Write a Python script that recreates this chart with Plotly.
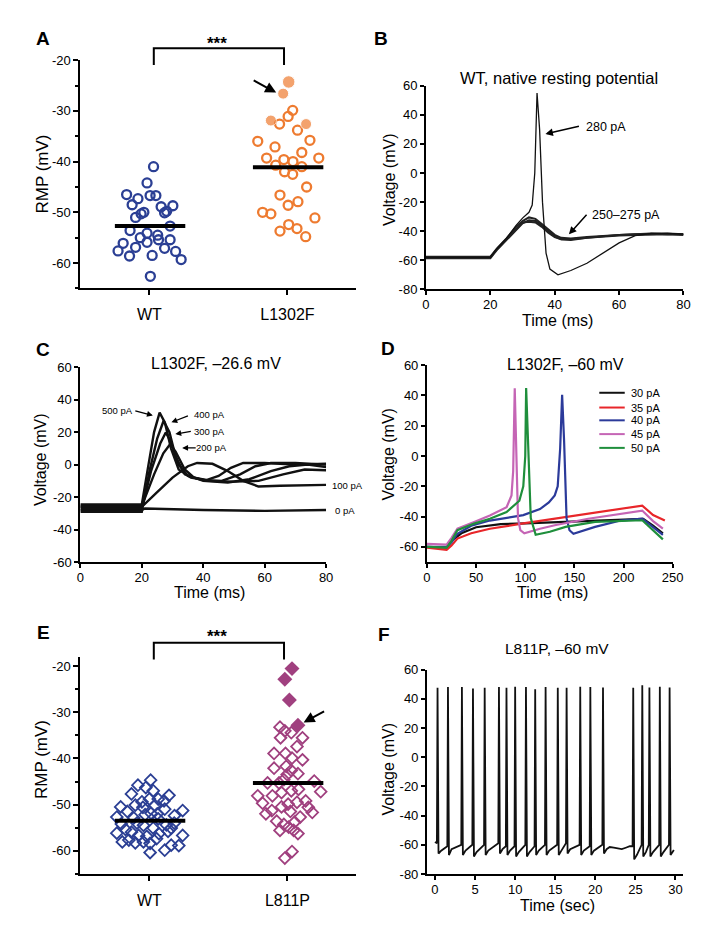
import plotly.graph_objects as go

W, H = 717, 944
FONT = "Liberation Sans, Arial, Helvetica, sans-serif"

# ================= DATA =================
# ---- Panel A : RMP, WT vs L1302F ----
a_categories = ["WT", "L1302F"]
a_wt_dx = [0.03, -0.017, -0.165, 0.005, 0.047, -0.083, -0.125, 0.085, 0.17, 0.125, 0.11, -0.04,
           -0.06, -0.1, 0.15, -0.14, -0.017, 0.06, -0.066, 0.066, 0.15, -0.017, -0.19, -0.1, 0.11,
           -0.227, 0.19, -0.144, 0.02, 0.23, 0.007]
a_wt_v = [-41.0, -44.2, -46.5, -46.7, -46.7, -47.3, -48.5, -48.9, -48.7, -49.8, -50.1, -50.0,
          -50.3, -51.0, -52.7, -53.6, -54.1, -54.5, -55.0, -55.4, -55.4, -55.9, -56.1, -56.9, -57.1,
          -57.6, -57.7, -58.6, -58.5, -59.3, -62.6]
a_mut_dx = [0.038, 0.005, -0.057, 0.073, -0.215, 0.163, -0.09, 0.104, -0.151, -0.026, 0.04, 0.227,
            -0.085, 0.104, -0.021, 0.038, 0.139, -0.054, 0.076, 0.005, -0.18, -0.12, 0.199, 0.009,
            -0.054, 0.069, 0.132]
a_mut_v = [-29.9, -31.1, -32.6, -33.8, -36.0, -35.8, -37.1, -38.2, -39.3, -39.6, -40.0, -39.3,
           -40.7, -41.0, -42.0, -42.5, -45.0, -46.6, -47.9, -48.6, -50.0, -50.3, -51.1, -52.4,
           -53.7, -53.2, -54.8]
a_mut_fill_dx = [0.009, -0.031, -0.12, 0.135]
a_mut_fill_v = [-24.3, -26.6, -31.9, -32.6]
a_means = [-52.7, -41.1]
a_yticks = [-20, -30, -40, -50, -60]

# ---- Panel B : WT, native resting potential ----
b_sub1_t = [0, 20, 22, 25, 28, 30, 32, 34, 36, 38, 40, 42, 45, 50, 55, 60, 65, 70, 75, 80]
b_sub1_v = [-57.5, -57.5, -52, -45, -37, -33, -30.5, -31.5, -35, -39, -42.5, -44.5, -45, -44, -43,
            -42.5, -42, -41.5, -41.5, -42]
b_sub2_t = [0, 20, 22, 25, 28, 30, 32, 34, 36, 38, 40, 42, 45, 50, 55, 60, 65, 70, 75, 80]
b_sub2_v = [-58.5, -58.5, -53, -46, -38.5, -34.5, -32.5, -33, -36, -40, -43.5, -45.5, -46, -44.5,
            -43.5, -43, -42.5, -42, -42, -42.5]
b_sub3_t = [0, 20, 22, 25, 28, 30, 32, 34, 36, 38, 40, 42, 45, 50, 55, 60, 65, 70, 75, 80]
b_sub3_v = [-58, -58, -52.5, -45.5, -38, -34, -33.5, -34, -37, -41, -44, -45.5, -45.5, -44.5, -43,
            -42.5, -42, -41.5, -42, -42]
b_spk_t = [0, 20, 22, 25, 28, 30, 32, 33, 33.8, 34.5, 35.3, 36.2, 37.3, 38.5, 41, 45, 50, 55, 60,
           65, 70, 75, 80]
b_spk_v = [-58, -58, -52, -45, -36, -31, -27, -22, 0, 55, 30, -20, -55, -66, -70, -67, -62, -55, -48,
           -43, -41.5, -41.5, -42]
b_xticks = [0, 20, 40, 60, 80]
b_yticks = [60, 40, 20, 0, -20, -40, -60, -80]

# ---- Panel C : L1302F, -26.6 mV ----
c_labels = ["0 pA", "100 pA", "200 pA", "300 pA", "400 pA", "500 pA"]
c_0_t = [0, 20, 21, 40, 60, 80]
c_0_v = [-28, -28, -27, -28, -28.5, -28]
c_100_t = [0, 20, 25, 30, 35, 38, 43, 48, 53, 58, 65, 80]
c_100_v = [-26, -26, -17, -8, -1, 1, 0.5, -4, -10, -13.5, -13, -12.5]
c_200_t = [0, 20, 24, 27, 29.2, 31, 34, 37, 41, 45, 49, 53, 60, 70, 80]
c_200_v = [-25.5, -25.5, -6, 7, 12.5, 8, -3, -8, -9.5, -7, -2, 1, 1, 0, 0.5]
c_300_t = [0, 20, 23, 26, 27.8, 29.5, 32, 35, 40, 46, 52, 57, 62, 70, 80]
c_300_v = [-27, -27, -4, 13, 19.8, 14, 0, -7, -9.5, -10, -6, -1, 1, 1, 0]
c_400_t = [0, 20, 22.5, 25, 27.1, 29, 31, 34, 40, 48, 55, 62, 68, 74, 80]
c_400_v = [-29, -29, -4, 16, 27, 20, 5, -6, -10, -11, -9, -4, -1, 0, -1.5]
c_500_t = [0, 20, 22, 24, 25.8, 27.5, 29.5, 32, 36, 42, 50, 58, 66, 73, 80]
c_500_v = [-24.5, -24.5, -2, 20, 32, 26, 10, -3, -8, -10, -10.5, -10, -6, -3, -3.5]
c_xticks = [0, 20, 40, 60, 80]
c_yticks = [60, 40, 20, 0, -20, -40, -60]

# ---- Panel D : L1302F, -60 mV ----
d_labels = ["30 pA", "35 pA", "40 pA", "45 pA", "50 pA"]
d_30_t = [0, 20, 25, 35, 50, 75, 100, 140, 180, 220, 230, 240]
d_30_v = [-60, -60.5, -56, -51, -47, -45, -44.5, -43.5, -42.5, -41.5, -46, -51]
d_35_t = [0, 15, 20, 25, 31, 45, 64, 98, 147, 197, 219, 230, 242]
d_35_v = [-60.5, -61.5, -62, -59, -54.5, -51, -48, -44.5, -39.6, -34.4, -32.7, -39, -42.5]
d_40_t = [0, 20, 25, 31, 45, 64, 98, 115, 124, 130, 133, 135.5, 137.5, 139.5, 142, 145, 149, 160,
          171, 197, 219, 230, 240]
d_40_v = [-60, -60, -57, -51.3, -46, -42.6, -39, -35, -30.6, -26, -20, 5, 40.5, 10, -41, -49, -51.3,
          -49, -46.8, -42.6, -41.4, -47, -52]
d_45_t = [0, 20, 25, 31, 48, 64, 81, 86, 87.7, 89.3, 91, 92.6, 95, 99, 115, 130, 164, 197, 219,
          230, 240]
d_45_v = [-58, -58.5, -54, -48, -43.5, -39.3, -33.8, -26, -10, 44.8, 0, -41, -49, -51, -48, -45.7,
          -41.4, -38.2, -36, -43, -48]
d_50_t = [0, 20, 25, 31, 48, 64, 81, 94, 98, 100, 100.9, 102.5, 105.6, 110.6, 125, 141, 171, 219,
          230, 240]
d_50_v = [-60, -60.5, -56, -49, -44.6, -41.4, -37, -29.5, -20, 0, 45, 10, -41, -52, -50, -46.8,
          -43.5, -42.4, -49, -55]
d_xticks = [0, 50, 100, 150, 200, 250]
d_yticks = [60, 40, 20, 0, -20, -40, -60]

# ---- Panel E : RMP, WT vs L811P ----
e_categories = ["WT", "L811P"]
e_wt_dx = [0.009, -0.083, -0.026, 0.028, -0.13, 0.142, 0.0, 0.064, -0.054, 0.106, -0.102, -0.208,
           -0.047, 0.111, 0.241, 0.012, -0.031, 0.057, 0.182, -0.236, -0.113, 0.064, -0.203, -0.09,
           -0.043, 0.028, 0.123, 0.158, -0.173, -0.236, -0.13, -0.078, -0.019, 0.069, 0.135, 0.241,
           -0.149, -0.196, -0.102, -0.043, 0.005, 0.052, 0.158, 0.213, 0.111, 0.005, -0.16, 0.04,
           0.18]
e_wt_v = [-44.7, -45.8, -46.3, -47.0, -47.7, -48.0, -48.8, -48.8, -49.4, -49.2, -50.1, -50.5,
          -50.6, -51.0, -51.3, -51.9, -52.2, -52.0, -52.4, -52.7, -52.9, -53.1, -54.2, -54.0,
          -54.5, -55.1, -54.4, -55.1, -55.4, -56.2, -56.0, -56.7, -56.9, -56.3, -55.8, -56.7,
          -57.7, -58.1, -58.3, -58.1, -58.4, -57.4, -58.8, -58.9, -59.9, -60.4, -51.5, -50.2,
          -54.0]
e_mut_dx = [-0.054, -0.019, 0.028, -0.05, 0.109, 0.069, -0.097, -0.014, 0.033, 0.109, -0.097,
            -0.009, 0.028, -0.002, 0.076, -0.026, -0.061, -0.144, 0.194, 0.241, -0.215, -0.109,
            -0.043, 0.028, 0.08, -0.18, -0.043, 0.005, 0.069, 0.132, 0.151, 0.18, -0.113, -0.156,
            0.021, 0.092, 0.052, -0.078, -0.026, -0.054, 0.009, 0.045, 0.076, 0.033, -0.019]
e_mut_v = [-33.2, -34.0, -34.4, -35.5, -35.5, -37.4, -38.9, -38.9, -39.9, -40.3, -42.1, -41.7,
           -42.6, -43.5, -43.3, -44.6, -45.3, -45.3, -44.9, -47.2, -48.1, -48.1, -47.4, -47.0,
           -46.7, -49.7, -50.5, -49.9, -49.5, -49.2, -50.6, -51.7, -51.3, -52.0, -51.5, -52.7,
           -53.8, -53.6, -54.3, -55.6, -54.9, -55.6, -56.3, -60.2, -61.6]
e_mut_fill_dx = [0.033, -0.019, 0.014, 0.076]
e_mut_fill_v = [-20.5, -22.8, -27.3, -32.8]
e_means = [-53.5, -45.3]
e_yticks = [-20, -30, -40, -50, -60]

# ---- Panel F : L811P, -60 mV, spontaneous firing ----
f_start = (0.0, -58.0)
f_spike_t = [0.32, 1.62, 3.36, 4.74, 6.2, 7.98, 8.92, 10.0, 11.35, 12.5, 13.8, 15.32, 16.42, 18.12,
             19.38, 20.96, 24.73, 25.86, 26.75, 28.05, 29.27]
f_peak_v = [47.5, 48, 48, 47, 47.5, 48, 47.5, 48.3, 48, 46.5, 48, 47.5, 47.5, 48.3, 48, 47.8, 47.5,
            49.2, 47.8, 48.3, 47.8]
f_pre_v = [-59, -61, -60, -60, -60, -59, -61, -61, -60, -61, -60, -60, -59, -60, -61, -60, -61, -60,
           -60, -60, -60]
f_trough_v = [-66, -67, -67, -68, -67, -66, -67, -68, -68, -67, -67, -67, -66, -67, -67, -66, -70,
              -68, -68, -68, -67]
f_recov_v = [-64, -63, -64, -65, -64, -63, -64, -65, -65, -64, -64, -64, -63, -64, -64, -63, -67,
             -65, -65, -65, -64]
f_gap_t = [21.4, 21.8, 22.3, 22.8, 23.3, 23.8, 24.3]
f_gap_v = [-63, -61.5, -62, -62.5, -63, -62, -61]
f_end = (29.8, -63.5)
f_xticks = [0, 5, 10, 15, 20, 25, 30]
f_yticks = [60, 40, 20, 0, -20, -40, -60, -80]

# ================= STYLE =================
BLUE = "#2b3f94"
ORANGE = "#ee7b30"
MAG = "#a0407f"
D_COLORS = ["#111111", "#e8262a", "#2b3a9a", "#c565b5", "#1f8f3c"]


def pxx(x):
    return x / W


def pxy(y):
    return 1 - y / H


def axis(dom, ticks_list=None, **kw):
    d = dict(domain=dom, showline=True, linecolor="black", linewidth=2, ticks="outside",
             tickcolor="black", tickwidth=2, ticklen=4, showgrid=False, zeroline=False,
             tickfont=dict(family=FONT, size=13, color="black"), fixedrange=True)
    if ticks_list is not None:
        d["tickvals"] = ticks_list
        d["ticktext"] = [str(v) for v in ticks_list]
    d.update(kw)
    return d


fig = go.Figure()

# ---- A ----
fig.add_trace(go.Scatter(x=[0 + d for d in a_wt_dx], y=a_wt_v, mode="markers", xaxis="x", yaxis="y",
                         marker=dict(symbol="circle-open", size=9, color=BLUE, line=dict(width=2.3, color=BLUE))))
fig.add_trace(go.Scatter(x=[1 + d for d in a_mut_dx], y=a_mut_v, mode="markers", xaxis="x", yaxis="y",
                         marker=dict(symbol="circle-open", size=9, color=ORANGE, line=dict(width=2.3, color=ORANGE))))
fig.add_trace(go.Scatter(x=[1 + d for d in a_mut_fill_dx], y=a_mut_fill_v, mode="markers", xaxis="x", yaxis="y",
                         marker=dict(symbol="circle", size=[12.5, 11, 11, 11], color=ORANGE)))
for i, m in enumerate(a_means):
    fig.add_trace(go.Scatter(x=[i - 0.25, i + 0.26], y=[m, m], mode="lines", xaxis="x", yaxis="y",
                             line=dict(color="black", width=4)))

# ---- B ----
for t, v in [(b_sub1_t, b_sub1_v), (b_sub2_t, b_sub2_v), (b_sub3_t, b_sub3_v)]:
    fig.add_trace(go.Scatter(x=t, y=v, mode="lines", xaxis="x2", yaxis="y2",
                             line=dict(color="#222222", width=2)))
fig.add_trace(go.Scatter(x=b_spk_t, y=b_spk_v, mode="lines", xaxis="x2", yaxis="y2",
                         line=dict(color="#111111", width=1.3)))

# ---- C ----
for t, v in [(c_0_t, c_0_v), (c_100_t, c_100_v), (c_200_t, c_200_v), (c_300_t, c_300_v),
             (c_400_t, c_400_v), (c_500_t, c_500_v)]:
    fig.add_trace(go.Scatter(x=t, y=v, mode="lines", xaxis="x3", yaxis="y3",
                             line=dict(color="#111111", width=2.4)))

# ---- D ----
for (t, v), col in zip([(d_30_t, d_30_v), (d_35_t, d_35_v), (d_40_t, d_40_v), (d_45_t, d_45_v),
                        (d_50_t, d_50_v)], D_COLORS):
    fig.add_trace(go.Scatter(x=t, y=v, mode="lines", xaxis="x4", yaxis="y4",
                             line=dict(color=col, width=2.2)))

# ---- E ----
fig.add_trace(go.Scatter(x=[0 + d for d in e_wt_dx], y=e_wt_v, mode="markers", xaxis="x5", yaxis="y5",
                         marker=dict(symbol="diamond-open", size=9, color=BLUE, line=dict(width=1.8, color=BLUE))))
fig.add_trace(go.Scatter(x=[1 + d for d in e_mut_dx], y=e_mut_v, mode="markers", xaxis="x5", yaxis="y5",
                         marker=dict(symbol="diamond-open", size=9, color=MAG, line=dict(width=1.8, color=MAG))))
fig.add_trace(go.Scatter(x=[1 + d for d in e_mut_fill_dx], y=e_mut_fill_v, mode="markers", xaxis="x5", yaxis="y5",
                         marker=dict(symbol="diamond", size=11.5, color=MAG)))
for i, m in enumerate(e_means):
    fig.add_trace(go.Scatter(x=[i - 0.25, i + 0.26], y=[m, m], mode="lines", xaxis="x5", yaxis="y5",
                             line=dict(color="black", width=4)))

# ---- F ----
f_t = [f_start[0]]
f_v = [f_start[1]]
for i, t in enumerate(f_spike_t):
    f_t += [t - 0.08, t, t + 0.12, t + 0.45]
    f_v += [f_pre_v[i], f_peak_v[i], f_trough_v[i], f_recov_v[i]]
    if i == 15:
        f_t += f_gap_t
        f_v += f_gap_v
f_t.append(f_end[0])
f_v.append(f_end[1])
fig.add_trace(go.Scatter(x=f_t, y=f_v, mode="lines", xaxis="x6", yaxis="y6",
                         line=dict(color="#111111", width=1.8)))

# ================= LAYOUT =================
cat_font = dict(family=FONT, size=16, color="black")
minor5 = dict(dtick=5, ticklen=3, tickwidth=1.5, tickcolor="black", ticks="outside")
SO = -2  # tick label standoff for numeric x axes

layout = dict(
    width=W, height=H, margin=dict(l=0, r=0, t=0, b=0), showlegend=False,
    paper_bgcolor="white", plot_bgcolor="white",
    # A
    xaxis=axis([pxx(78), pxx(360)], anchor="y", range=[-0.5, 1.5], tickvals=[0, 1], ticklen=5,
               ticktext=a_categories, tickfont=cat_font, ticklabelstandoff=5),
    yaxis=axis([pxy(286), pxy(54)], a_yticks, anchor="x", range=[-65, -20], minor=minor5, ticklen=5),
    # B
    xaxis2=axis([pxx(431), pxx(694)], b_xticks, anchor="y2", range=[0, 80], ticklabelstandoff=SO),
    yaxis2=axis([pxy(287), pxy(80)], b_yticks, anchor="x2", range=[-80, 60]),
    # C
    xaxis3=axis([pxx(78), pxx(329)], c_xticks, anchor="y3", range=[0, 80], ticklabelstandoff=SO),
    yaxis3=axis([pxy(564), pxy(366)], c_yticks, anchor="x3", range=[-60, 60]),
    # D
    xaxis4=axis([pxx(432), pxx(683)], d_xticks, anchor="y4", range=[0, 250], ticklabelstandoff=SO),
    yaxis4=axis([pxy(564), pxy(364)], d_yticks, anchor="x4", range=[-70, 60]),
    # E
    xaxis5=axis([pxx(78), pxx(360)], anchor="y5", range=[-0.5, 1.5], tickvals=[0, 1], ticklen=5,
                ticktext=e_categories, tickfont=cat_font, ticklabelstandoff=6),
    yaxis5=axis([pxy(880.7), pxy(660.6)], e_yticks, anchor="x5", range=[-65, -18], minor=minor5,
                ticklen=5),
    # F
    xaxis6=axis([pxx(432), pxx(694)], f_xticks, anchor="y6", range=[-1, 31], ticklabelstandoff=SO),
    yaxis6=axis([pxy(881), pxy(673.3)], f_yticks, anchor="x6", range=[-80, 60]),
)


def ann(x, y, text, size, angle=0, xanchor="center"):
    return dict(x=pxx(x), y=pxy(y), xref="paper", yref="paper", text=text, showarrow=False,
                font=dict(family=FONT, size=size, color="black"), textangle=angle,
                xanchor=xanchor, yanchor="middle")


def arrow(tipx, tipy, tailx, taily, width=1.5, size=1.0):
    return dict(x=pxx(tipx), y=pxy(tipy), xref="paper", yref="paper", text="", showarrow=True,
                ax=tailx - tipx, ay=taily - tipy, arrowhead=2, arrowsize=size, arrowwidth=width,
                arrowcolor="black")


annotations = [
    # panel letters
    ann(40, 32, "<b>A</b>", 19), ann(385, 32, "<b>B</b>", 19), ann(40, 348, "<b>C</b>", 19),
    ann(392, 347, "<b>D</b>", 19), ann(40, 636, "<b>E</b>", 19), ann(388, 638, "<b>F</b>", 19),
    # A
    ann(39, 170, "RMP (mV)", 17, angle=-90), ann(218, 37, "<b>***</b>", 17),
    arrow(278, 87, 254, 74, width=2, size=1.1),
    # B
    ann(567, 72, "WT, native resting potential", 16.5), ann(393, 176, "Voltage (mV)", 16, angle=-90),
    ann(565, 319, "Time (ms)", 16),
    ann(615, 122, "280 pA", 12.5), arrow(553, 129, 588, 121),
    ann(635, 211, "250–275 pA", 12.5), arrow(577, 231, 596, 210),
    # C
    ann(217, 362, "L1302F, –26.6 mV", 16), ann(37, 460, "Voltage (mV)", 16, angle=-90),
    ann(210, 595, "Time (ms)", 16),
    ann(116, 410, "500 pA", 9.5), arrow(152, 415, 133, 410, width=1.3, size=0.9),
    ann(210, 414, "400 pA", 9.5), arrow(171, 422, 189, 415, width=1.3, size=0.9),
    ann(210, 431, "300 pA", 9.5), arrow(175, 434, 192, 431, width=1.3, size=0.9),
    ann(212, 448, "200 pA", 9.5), arrow(182, 448, 197, 448, width=1.3, size=0.9),
    ann(333, 486, "100 pA", 9.5, xanchor="left"), ann(336, 512, "0 pA", 9.5, xanchor="left"),
    # D
    ann(573, 363, "L1302F, –60 mV", 16), ann(393, 455, "Voltage (mV)", 16, angle=-90),
    ann(560, 595, "Time (ms)", 16),
    # E
    ann(39, 765, "RMP (mV)", 17, angle=-90), ann(218, 640, "<b>***</b>", 17),
    arrow(306, 727, 328, 715, width=2, size=1.1),
    # F
    ann(565, 652, "L811P, –60 mV", 15.5), ann(393, 775, "Voltage (mV)", 16, angle=-90),
    ann(565, 913, "Time (sec)", 16),
]

# D legend (manual)
legend_rows = [392, 407, 420, 434, 448]
shapes = []
for row, lab, col in zip(legend_rows, d_labels, D_COLORS):
    shapes.append(dict(type="line", xref="paper", yref="paper", x0=pxx(608), x1=pxx(634),
                       y0=pxy(row), y1=pxy(row), line=dict(color=col, width=2)))
    annotations.append(ann(638, row, lab, 11, xanchor="left"))

# significance brackets
for top, bot in [(42, 59), (646, 663)]:
    shapes.append(dict(type="path", xref="paper", yref="paper",
                       path=f"M {pxx(153)} {pxy(bot)} L {pxx(153)} {pxy(top)} L {pxx(286)} {pxy(top)} L {pxx(286)} {pxy(bot)}",
                       line=dict(color="black", width=2)))

layout["annotations"] = annotations
layout["shapes"] = shapes
fig.update_layout(**layout)
fig.write_html("out.html")
